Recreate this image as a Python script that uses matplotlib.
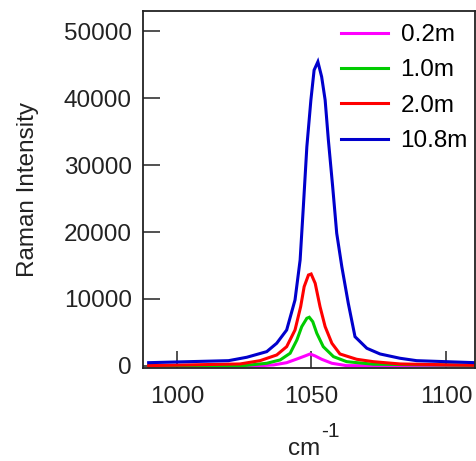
import matplotlib
matplotlib.use("Agg")
import matplotlib.pyplot as plt

plt.rcParams["font.family"] = ["Liberation Sans", "DejaVu Sans"]

# spectra (wavenumber in cm^-1, intensity)
x_blue = [989.5, 1019.2, 1026.0, 1033.4, 1037.1, 1040.8, 1043.9, 1045.8, 1047.0,
          1048.3, 1049.8, 1051.0, 1052.4, 1053.8, 1055.1, 1056.3, 1057.9, 1059.4,
          1061.3, 1063.7, 1066.2, 1070.6, 1075.5, 1082.9, 1089.1, 1110.8]
y_blue = [490, 790, 1300, 2140, 3390, 5370, 9850, 15820, 23780,
          32730, 39700, 44180, 45420, 43180, 39700, 33730, 26760, 19810,
          14820, 9360, 4370, 2640, 1790, 1150, 790, 490]

x_red = [989.5, 1023.5, 1030.9, 1037.1, 1040.8, 1043.9, 1046.0, 1047.3, 1048.9,
         1049.9, 1051.4, 1053.2, 1055.1, 1057.6, 1060.6, 1066.8, 1073.0, 1082.9, 1110.8]
y_red = [50, 300, 790, 1640, 2880, 5370, 8850, 11840, 13580,
         13730, 12340, 8850, 5870, 3390, 1790, 1000, 640, 300, 100]

x_green = [989.5, 1025.0, 1033.4, 1038.4, 1042.1, 1044.6, 1046.4, 1048.3, 1049.2,
           1050.5, 1052.0, 1054.4, 1058.2, 1063.1, 1073.0, 1110.8]
y_green = [30, 60, 400, 900, 1900, 3880, 5870, 7120, 7270,
           6610, 4880, 2880, 1390, 640, 260, 100]

x_magenta = [989.5, 1030.0, 1035.9, 1040.8, 1044.6, 1047.6, 1049.5, 1051.4,
             1053.8, 1057.6, 1063.0, 1110.8]
y_magenta = [0, 20, 150, 490, 1040, 1490, 1790, 1490,
             1000, 400, 50, 0]

labels = ["0.2m", "1.0m", "2.0m", "10.8m"]
colors = ["#ff00ff", "#00cc00", "#ff0000", "#0000cc"]

x_ticks = [1000, 1050, 1100]
y_ticks = [0, 10000, 20000, 30000, 40000, 50000]


def main():
    fig = plt.figure(figsize=(4.77, 4.61), dpi=100)
    ax = fig.add_axes([143 / 477, 1 - 368.3 / 461, (475 - 143) / 477, (368.3 - 11) / 461])

    series = [(x_magenta, y_magenta), (x_green, y_green), (x_red, y_red), (x_blue, y_blue)]
    for (xs, ys), lab, col in zip(series, labels, colors):
        ax.plot(xs, ys, color=col, linewidth=2.2, label=lab, solid_joinstyle="miter")

    ax.set_xlim(987.4, 1110.8)
    ax.set_ylim(-350, 53000)
    ax.set_xticks(x_ticks)
    ax.set_yticks(y_ticks)

    for side in ["left", "bottom", "top", "right"]:
        ax.spines[side].set_linewidth(1.3)
        ax.spines[side].set_color("#222222")
    ax.tick_params(direction="in", length=12, width=1.1, color="#222222",
                   labelsize=17.5, labelcolor="#222222", top=False, right=False)
    ax.tick_params(axis="x", pad=13)
    ax.tick_params(axis="y", pad=8)

    ax.set_ylabel("Raman Intensity", fontsize=17.5, labelpad=18, color="#222222")
    ax.set_xlabel("cm", fontsize=17.5, color="#222222")
    ax.xaxis.set_label_coords(0.485, -0.195)
    # superscript "-1" next to the unit, as in the original
    ax.annotate("-1", xy=(1, 1), xycoords=ax.xaxis.label, xytext=(1, -2),
                textcoords="offset points", ha="left", va="bottom",
                fontsize=15, color="#222222")

    ax.legend(loc="upper left", bbox_to_anchor=(341 / 477, 1 - 24 / 461),
              bbox_transform=fig.transFigure, frameon=False, fontsize=17.5,
              handlelength=1.95, handletextpad=0.5, labelspacing=0.55,
              borderpad=0, borderaxespad=0)

    fig.savefig("out.png", dpi=100)


if __name__ == "__main__":
    main()
